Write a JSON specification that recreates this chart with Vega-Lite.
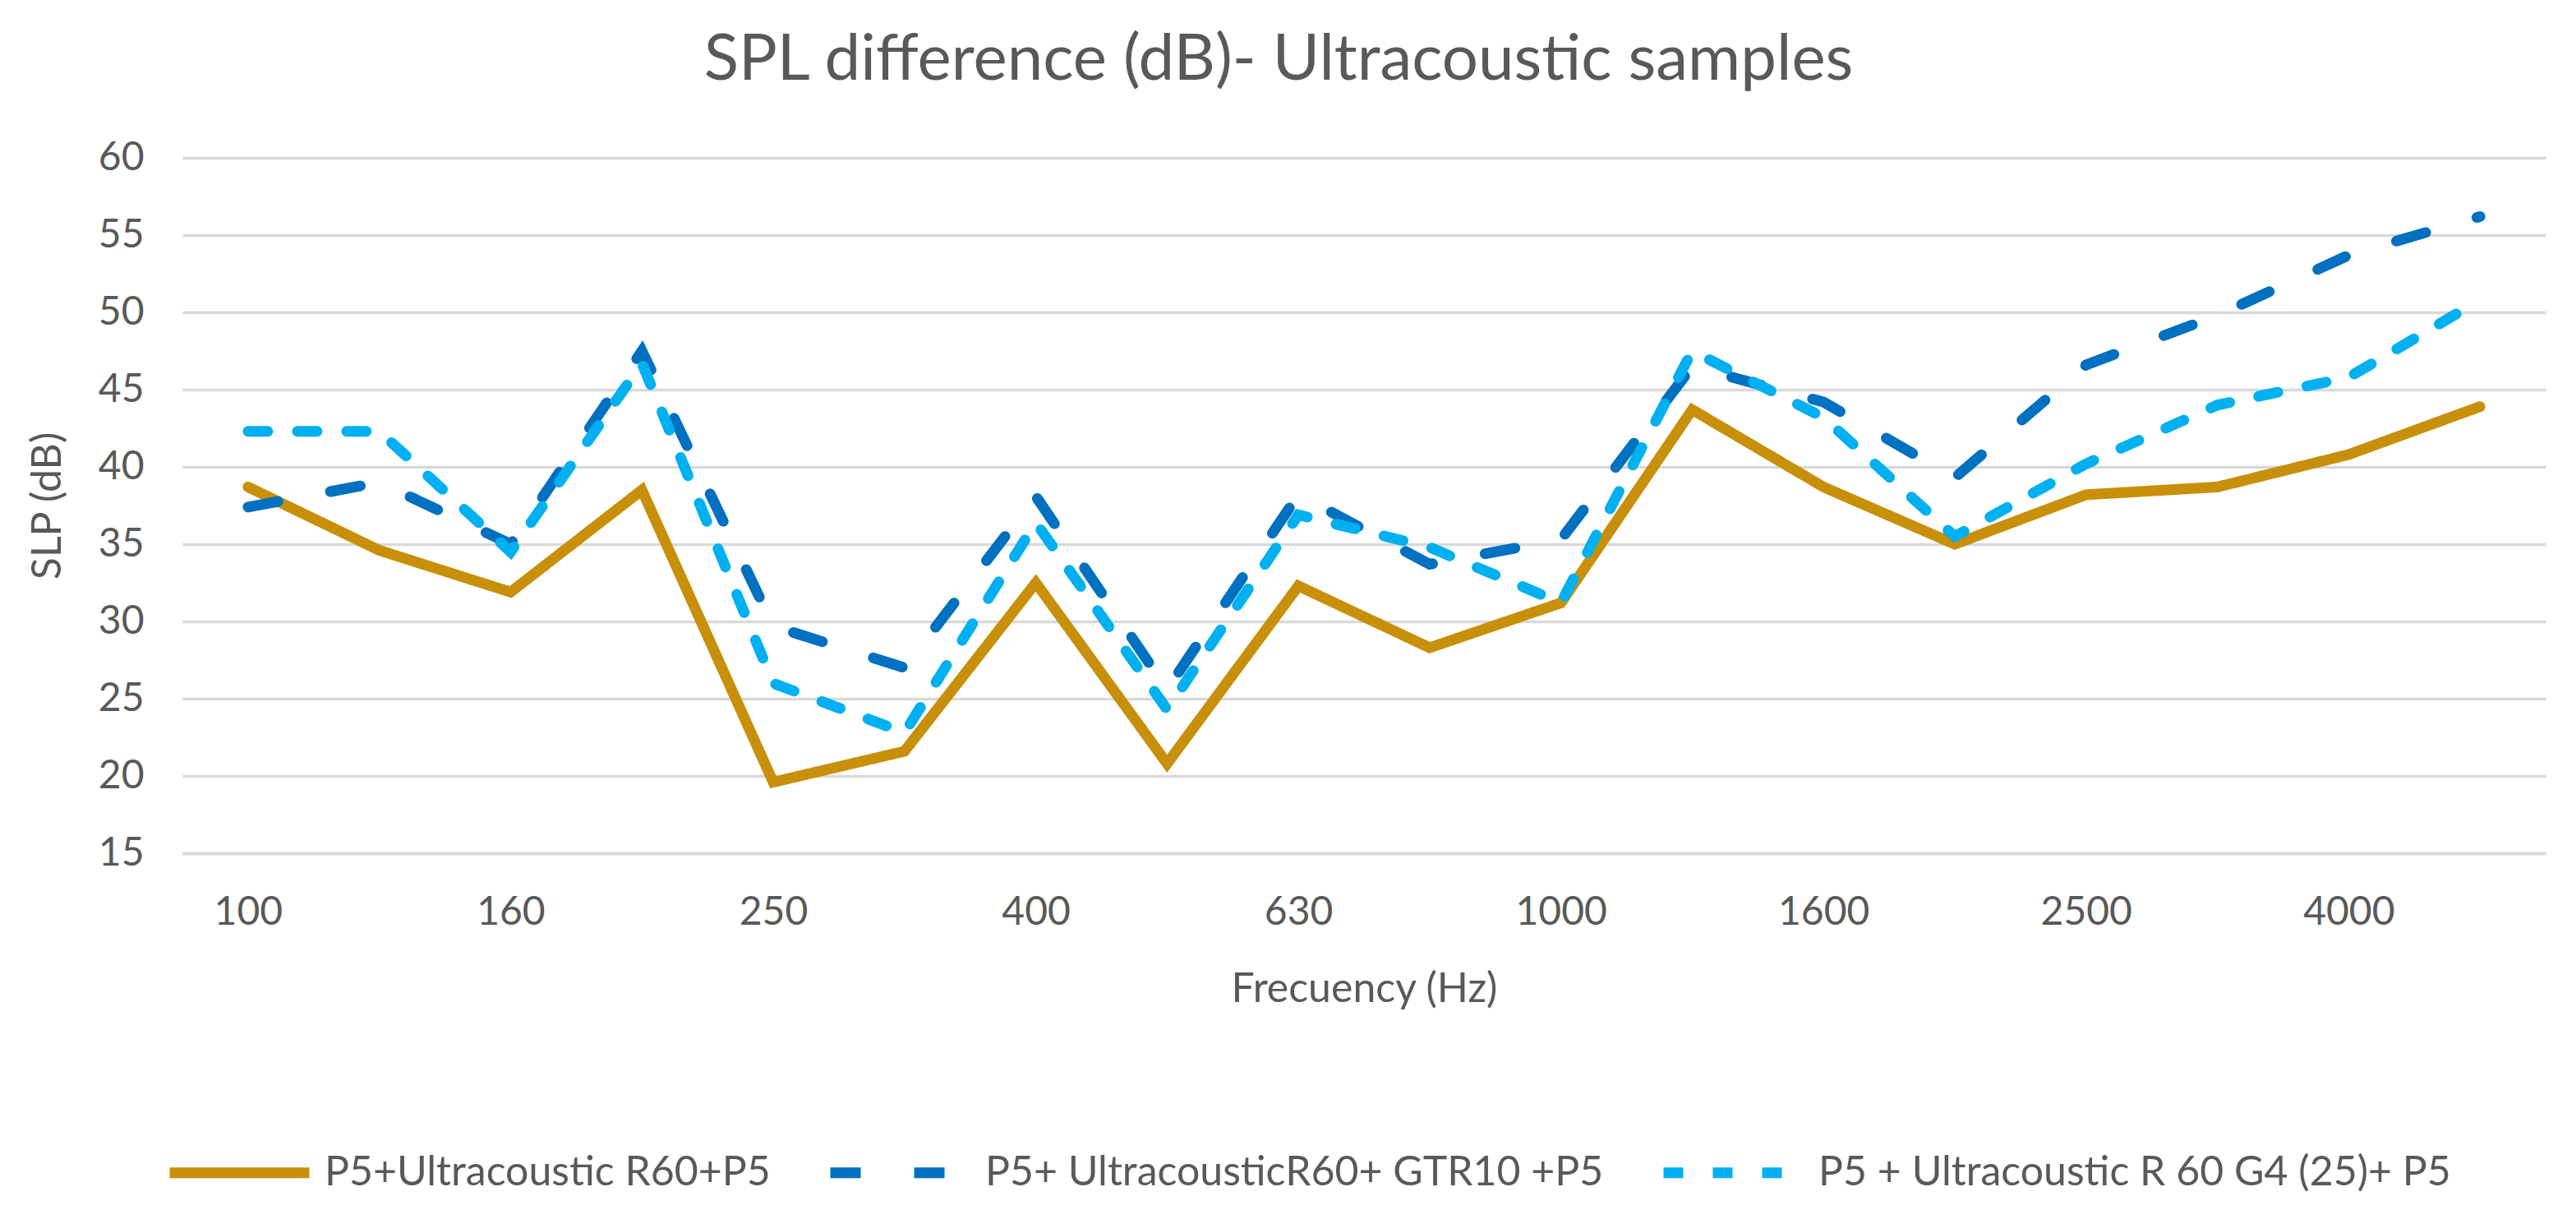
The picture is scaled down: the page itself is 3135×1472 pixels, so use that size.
{
  "$schema": "https://vega.github.io/schema/vega-lite/v6.json",
  "autosize": "none",
  "padding": {"left": 222, "top": 192, "right": 37, "bottom": 434},
  "width": 2876,
  "height": 846,
  "background": "#ffffff",
  "title": {
    "text": "SPL difference (dB)- Ultracoustic samples",
    "anchor": "middle",
    "frame": "group",
    "dx": -104,
    "offset": -7,
    "baseline": "alphabetic",
    "font": "Lato",
    "fontSize": 78,
    "fontWeight": "normal",
    "color": "#595959"
  },
  "config": {
    "view": {"stroke": null},
    "axis": {
      "labelFont": "Lato",
      "labelFontSize": 48,
      "labelColor": "#595959",
      "titleFont": "Lato",
      "titleFontSize": 50,
      "titleFontWeight": "normal",
      "titleColor": "#595959",
      "ticks": false,
      "tickSize": 0
    },
    "legend": {
      "labelFont": "Lato",
      "labelFontSize": 50,
      "labelColor": "#595959",
      "labelLimit": 0
    }
  },
  "data": {
    "values": [
      {"freq": "100", "series": "P5+Ultracoustic R60+P5", "spl": 38.7},
      {"freq": "125", "series": "P5+Ultracoustic R60+P5", "spl": 34.6},
      {"freq": "160", "series": "P5+Ultracoustic R60+P5", "spl": 31.9},
      {"freq": "200", "series": "P5+Ultracoustic R60+P5", "spl": 38.5},
      {"freq": "250", "series": "P5+Ultracoustic R60+P5", "spl": 19.6},
      {"freq": "315", "series": "P5+Ultracoustic R60+P5", "spl": 21.6},
      {"freq": "400", "series": "P5+Ultracoustic R60+P5", "spl": 32.5},
      {"freq": "500", "series": "P5+Ultracoustic R60+P5", "spl": 20.8},
      {"freq": "630", "series": "P5+Ultracoustic R60+P5", "spl": 32.3},
      {"freq": "800", "series": "P5+Ultracoustic R60+P5", "spl": 28.3},
      {"freq": "1000", "series": "P5+Ultracoustic R60+P5", "spl": 31.2},
      {"freq": "1250", "series": "P5+Ultracoustic R60+P5", "spl": 43.7},
      {"freq": "1600", "series": "P5+Ultracoustic R60+P5", "spl": 38.7},
      {"freq": "2000", "series": "P5+Ultracoustic R60+P5", "spl": 35.0},
      {"freq": "2500", "series": "P5+Ultracoustic R60+P5", "spl": 38.2},
      {"freq": "3150", "series": "P5+Ultracoustic R60+P5", "spl": 38.7},
      {"freq": "4000", "series": "P5+Ultracoustic R60+P5", "spl": 40.8},
      {"freq": "5000", "series": "P5+Ultracoustic R60+P5", "spl": 43.9},
      {"freq": "100", "series": "P5+ UltracousticR60+ GTR10 +P5", "spl": 37.4},
      {"freq": "125", "series": "P5+ UltracousticR60+ GTR10 +P5", "spl": 39.0},
      {"freq": "160", "series": "P5+ UltracousticR60+ GTR10 +P5", "spl": 35.0},
      {"freq": "200", "series": "P5+ UltracousticR60+ GTR10 +P5", "spl": 47.5},
      {"freq": "250", "series": "P5+ UltracousticR60+ GTR10 +P5", "spl": 29.7},
      {"freq": "315", "series": "P5+ UltracousticR60+ GTR10 +P5", "spl": 27.0},
      {"freq": "400", "series": "P5+ UltracousticR60+ GTR10 +P5", "spl": 38.1},
      {"freq": "500", "series": "P5+ UltracousticR60+ GTR10 +P5", "spl": 25.6},
      {"freq": "630", "series": "P5+ UltracousticR60+ GTR10 +P5", "spl": 38.2},
      {"freq": "800", "series": "P5+ UltracousticR60+ GTR10 +P5", "spl": 33.7},
      {"freq": "1000", "series": "P5+ UltracousticR60+ GTR10 +P5", "spl": 35.3},
      {"freq": "1250", "series": "P5+ UltracousticR60+ GTR10 +P5", "spl": 46.5},
      {"freq": "1600", "series": "P5+ UltracousticR60+ GTR10 +P5", "spl": 44.2},
      {"freq": "2000", "series": "P5+ UltracousticR60+ GTR10 +P5", "spl": 39.3},
      {"freq": "2500", "series": "P5+ UltracousticR60+ GTR10 +P5", "spl": 46.6},
      {"freq": "3150", "series": "P5+ UltracousticR60+ GTR10 +P5", "spl": 49.8},
      {"freq": "4000", "series": "P5+ UltracousticR60+ GTR10 +P5", "spl": 53.7},
      {"freq": "5000", "series": "P5+ UltracousticR60+ GTR10 +P5", "spl": 56.2},
      {"freq": "100", "series": "P5 + Ultracoustic R 60 G4 (25)+ P5", "spl": 42.3},
      {"freq": "125", "series": "P5 + Ultracoustic R 60 G4 (25)+ P5", "spl": 42.3},
      {"freq": "160", "series": "P5 + Ultracoustic R 60 G4 (25)+ P5", "spl": 34.5},
      {"freq": "200", "series": "P5 + Ultracoustic R 60 G4 (25)+ P5", "spl": 46.7},
      {"freq": "250", "series": "P5 + Ultracoustic R 60 G4 (25)+ P5", "spl": 26.0},
      {"freq": "315", "series": "P5 + Ultracoustic R 60 G4 (25)+ P5", "spl": 22.8},
      {"freq": "400", "series": "P5 + Ultracoustic R 60 G4 (25)+ P5", "spl": 36.4},
      {"freq": "500", "series": "P5 + Ultracoustic R 60 G4 (25)+ P5", "spl": 24.3},
      {"freq": "630", "series": "P5 + Ultracoustic R 60 G4 (25)+ P5", "spl": 36.9},
      {"freq": "800", "series": "P5 + Ultracoustic R 60 G4 (25)+ P5", "spl": 34.8},
      {"freq": "1000", "series": "P5 + Ultracoustic R 60 G4 (25)+ P5", "spl": 31.2},
      {"freq": "1250", "series": "P5 + Ultracoustic R 60 G4 (25)+ P5", "spl": 47.5},
      {"freq": "1600", "series": "P5 + Ultracoustic R 60 G4 (25)+ P5", "spl": 43.2},
      {"freq": "2000", "series": "P5 + Ultracoustic R 60 G4 (25)+ P5", "spl": 35.5},
      {"freq": "2500", "series": "P5 + Ultracoustic R 60 G4 (25)+ P5", "spl": 40.2},
      {"freq": "3150", "series": "P5 + Ultracoustic R 60 G4 (25)+ P5", "spl": 44.0},
      {"freq": "4000", "series": "P5 + Ultracoustic R 60 G4 (25)+ P5", "spl": 45.8},
      {"freq": "5000", "series": "P5 + Ultracoustic R 60 G4 (25)+ P5", "spl": 50.8}
    ]
  },
  "mark": {"type": "line", "strokeWidth": 13, "strokeCap": "round"},
  "encoding": {
    "x": {
      "field": "freq",
      "type": "ordinal",
      "sort": null,
      "scale": {"type": "point", "padding": 0.5},
      "axis": {
        "values": ["100", "160", "250", "400", "630", "1000", "1600", "2500", "4000"],
        "labelAngle": 0,
        "labelPadding": 48,
        "domain": true,
        "domainColor": "#D9D9D9",
        "domainWidth": 3.5,
        "grid": false,
        "title": "Frecuency (Hz)",
        "titlePadding": 44
      }
    },
    "y": {
      "field": "spl",
      "type": "quantitative",
      "scale": {"domain": [15, 60], "nice": false, "zero": false},
      "axis": {
        "values": [15, 20, 25, 30, 35, 40, 45, 50, 55, 60],
        "domain": false,
        "grid": true,
        "gridColor": "#D9D9D9",
        "gridWidth": 3.5,
        "labelPadding": 47,
        "title": "SLP (dB)",
        "titlePadding": 36
      }
    },
    "color": {
      "field": "series",
      "type": "nominal",
      "sort": null,
      "title": null,
      "scale": {
        "domain": ["P5+Ultracoustic R60+P5", "P5+ UltracousticR60+ GTR10 +P5", "P5 + Ultracoustic R 60 G4 (25)+ P5"],
        "range": ["#C8900A", "#0070C0", "#00B0F0"]
      },
      "legend": {
        "orient": "none",
        "direction": "horizontal",
        "legendX": -22,
        "legendY": 1143,
        "symbolType": "stroke",
        "symbolSize": 28900,
        "symbolStrokeWidth": 13,
        "labelOffset": 12,
        "labelLimit": 0,
        "columnPadding": 46
      }
    },
    "strokeDash": {
      "field": "series",
      "type": "nominal",
      "sort": null,
      "title": null,
      "scale": {
        "domain": ["P5+Ultracoustic R60+P5", "P5+ UltracousticR60+ GTR10 +P5", "P5 + Ultracoustic R 60 G4 (25)+ P5"],
        "range": [[1, 0], [37, 65], [24, 36]]
      }
    }
  }
}
